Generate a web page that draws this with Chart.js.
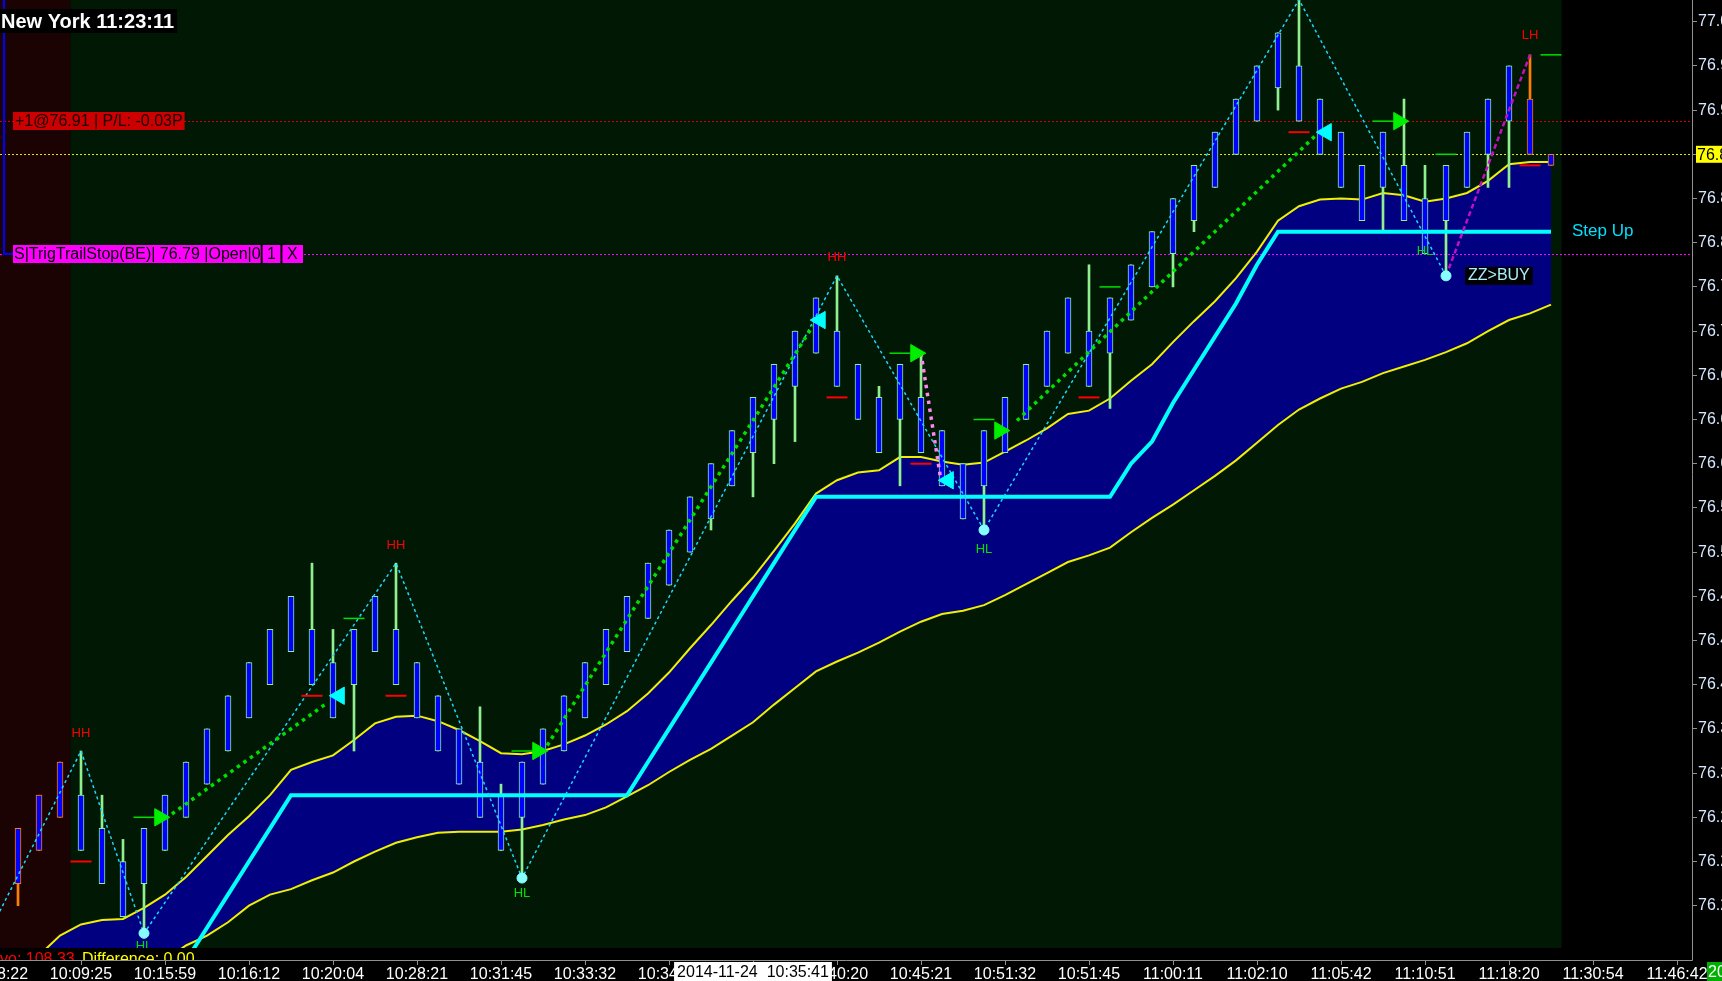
<!DOCTYPE html>
<html>
<head>
<meta charset="utf-8">
<script src="https://cdn.jsdelivr.net/npm/chart.js@4.4.0/dist/chart.umd.min.js"></script>
<style>
  html, body { margin: 0; padding: 0; background: #000; overflow: hidden; }
  canvas { display: block; }
</style>
</head>
<body>
<canvas id="chart" width="1722" height="981"></canvas>
<script>
// bars, left to right (range bars, 0 = first bar on screen)
const opens = [76.22,76.25,76.28,76.30,76.27,76.24,76.22,76.25,76.28,76.31,
  76.34,76.37,76.40,76.43,76.45,76.42,76.40,76.43,76.45,76.42,
  76.39,76.36,76.33,76.30,76.28,76.31,76.34,76.37,76.40,76.43,
  76.46,76.49,76.52,76.55,76.58,76.61,76.64,76.67,76.70,76.72,
  76.69,76.66,76.64,76.66,76.63,76.60,76.58,76.61,76.64,76.67,
  76.70,76.72,76.70,76.73,76.76,76.79,76.82,76.85,76.88,76.91,
  76.94,76.96,76.93,76.90,76.87,76.85,76.87,76.84,76.82,76.85,
  76.88,76.91,76.93,76.88];
const highs = [76.27,76.30,76.33,76.34,76.30,76.26,76.27,76.30,76.33,76.36,
  76.39,76.42,76.45,76.48,76.51,76.45,76.45,76.48,76.51,76.42,
  76.39,76.36,76.38,76.31,76.33,76.36,76.39,76.42,76.45,76.48,
  76.51,76.54,76.57,76.60,76.63,76.66,76.69,76.72,76.75,76.77,
  76.69,76.67,76.69,76.70,76.63,76.60,76.63,76.66,76.69,76.72,
  76.75,76.78,76.75,76.78,76.81,76.84,76.87,76.90,76.93,76.96,
  76.99,77.02,76.93,76.90,76.87,76.90,76.93,76.87,76.87,76.90,
  76.93,76.96,76.97,76.88];
const lows = [76.20,76.25,76.28,76.25,76.22,76.19,76.175,76.25,76.28,76.31,
  76.34,76.37,76.40,76.43,76.40,76.37,76.34,76.43,76.40,76.37,
  76.34,76.31,76.28,76.25,76.225,76.31,76.34,76.37,76.40,76.43,
  76.46,76.49,76.52,76.54,76.58,76.57,76.60,76.62,76.70,76.67,
  76.64,76.61,76.58,76.61,76.58,76.55,76.54,76.61,76.64,76.67,
  76.70,76.67,76.65,76.73,76.76,76.76,76.81,76.85,76.88,76.91,
  76.92,76.91,76.88,76.85,76.82,76.81,76.82,76.79,76.77,76.85,
  76.85,76.85,76.88,76.87];
const closes = [76.27,76.30,76.33,76.25,76.22,76.19,76.27,76.30,76.33,76.36,
  76.39,76.42,76.45,76.48,76.40,76.37,76.45,76.48,76.40,76.37,
  76.34,76.31,76.28,76.25,76.33,76.36,76.39,76.42,76.45,76.48,
  76.51,76.54,76.57,76.60,76.63,76.66,76.69,76.72,76.75,76.67,
  76.64,76.61,76.69,76.61,76.58,76.55,76.63,76.66,76.69,76.72,
  76.75,76.67,76.75,76.78,76.81,76.84,76.87,76.90,76.93,76.96,
  76.99,76.91,76.88,76.85,76.82,76.90,76.82,76.79,76.87,76.90,
  76.93,76.96,76.88,76.87];
// bars from the previous session / the live bars
const orangeBars = [0, 1, 2, 72, 73];
const sessionStartBar = 3;

// channel (upper / lower yellow) and the stepped trailing line
const upperBand = [76.128,76.155,76.173,76.183,76.187,76.188,76.198,76.210,76.226,76.245,
  76.264,76.281,76.300,76.323,76.330,76.336,76.350,76.365,76.371,76.372,
  76.367,76.359,76.349,76.338,76.337,76.340,76.346,76.354,76.364,76.376,
  76.392,76.411,76.433,76.454,76.476,76.497,76.521,76.546,76.573,76.585,
  76.592,76.594,76.606,76.606,76.602,76.599,76.601,76.611,76.621,76.632,
  76.645,76.648,76.659,76.675,76.690,76.710,76.729,76.747,76.768,76.792,
  76.820,76.833,76.839,76.840,76.839,76.845,76.843,76.837,76.840,76.845,
  76.856,76.871,76.873,76.873];
const lowerBand = [76.080,76.090,76.100,76.110,76.120,76.130,76.140,76.151,76.164,76.173,
  76.185,76.200,76.210,76.215,76.223,76.230,76.240,76.249,76.257,76.262,
  76.266,76.267,76.267,76.267,76.269,76.273,76.278,76.282,76.289,76.299,
  76.309,76.321,76.332,76.342,76.354,76.366,76.382,76.397,76.412,76.421,
  76.429,76.438,76.448,76.457,76.464,76.467,76.472,76.481,76.491,76.501,
  76.511,76.517,76.524,76.538,76.551,76.563,76.576,76.589,76.603,76.619,
  76.635,76.649,76.659,76.668,76.674,76.682,76.688,76.694,76.701,76.709,
  76.720,76.730,76.736,76.744];
const stepLine = [null,null,null,null,null,null,null,76.12,76.15,76.18,
  76.21,76.24,76.27,76.30,76.30,76.30,76.30,76.30,76.30,76.30,
  76.30,76.30,76.30,76.30,76.30,76.30,76.30,76.30,76.30,76.30,
  76.33,76.36,76.39,76.42,76.45,76.48,76.51,76.54,76.57,76.57,
  76.57,76.57,76.57,76.57,76.57,76.57,76.57,76.57,76.57,76.57,
  76.57,76.57,76.57,76.60,76.62,76.655,76.685,76.715,76.745,76.78,
  76.81,76.81,76.81,76.81,76.81,76.81,76.81,76.81,76.81,76.81,
  76.81,76.81,76.81,76.81];

// zigzag swings
const zigzagBars = [-1, 3, 6, 18, 24, 39, 46, 61, 68];
const zigzagPrices = [76.19, 76.34, 76.175, 76.51, 76.225, 76.77, 76.54, 77.02, 76.77];
const lastLegBars = [68, 72];
const lastLegPrices = [76.77, 76.97];
const swingLowBars = [6, 24, 46, 68];
const swingLowPrices = [76.175, 76.225, 76.54, 76.77];
const swingTexts = ["HH", "HL", "HH", "HL", "HH", "HL", "HL", "LH"];
const swingTextBars = [3, 6, 18, 24, 39, 46, 67, 72];
const swingTextPrices = [76.356, 76.163, 76.526, 76.211, 76.787, 76.522, 76.792, 76.988];

// trade signals
const buyArrowBars = [6.75, 24.75, 42.75, 46.75, 65.75];
const buyArrowPrices = [76.28, 76.34, 76.70, 76.63, 76.91];
const exitArrowBars = [15.3, 38.2, 44.3, 62.3];
const exitArrowPrices = [76.39, 76.73, 76.585, 76.90];
const trailBars = [[7.33, 14.76], [25.2, 37.86], [47.57, 61.9]];
const trailPrices = [[76.283, 76.384], [76.345, 76.725], [76.639, 76.899]];
const shortTrailBars = [43.0, 43.95];
const shortTrailPrices = [76.70, 76.585];
const redMarkBars = [3, 14, 18, 39, 43, 51, 61, 72];
const redMarkPrices = [76.24, 76.39, 76.39, 76.66, 76.60, 76.66, 76.90, 76.87];
const greenMarkBars = [6, 16, 24, 42, 46, 52, 65, 68, 73];
const greenMarkPrices = [76.28, 76.46, 76.34, 76.70, 76.64, 76.76, 76.91, 76.88, 76.97];

// order lines
const entryPrice = 76.91;
const lastPrice = 76.88;
const stopPrice = 76.79;

// axes
const priceTicks = [77.00, 76.96, 76.92, 76.88, 76.84, 76.80, 76.76, 76.72, 76.68, 76.64, 76.60,
  76.56, 76.52, 76.48, 76.44, 76.40, 76.36, 76.32, 76.28, 76.24, 76.20];
const timeTickBars = [-1, 3, 7, 11, 15, 19, 23, 27, 31, 35, 39, 43, 47, 51, 55, 59, 63, 67, 71, 75, 79];
const timeLabels = ["10:08:22", "10:09:25", "10:15:59", "10:16:12", "10:20:04", "10:28:21", "10:31:45",
  "10:33:32", "10:34:10", "10:35:41", "10:40:20", "10:45:21", "10:51:32", "10:51:45", "11:00:11",
  "11:02:10", "11:05:42", "11:10:51", "11:18:20", "11:30:54", "11:46:42"];
const cursorBar = 35;
const cursorText = "2014-11-24  10:35:41";

const FONT = "'Liberation Sans', Arial, sans-serif";
Chart.defaults.font.family = FONT;

const barIdx = opens.map((o, i) => i);
const pts = (xs, ys) => xs.map((x, k) => ({ x: x, y: ys[k] }));
const isOrange = (i) => orangeBars.includes(i);

function drawLevelLines(chart) {
  const { ctx, chartArea: a, scales: { y } } = chart;
  ctx.save();
  ctx.lineWidth = 1;
  ctx.setLineDash([2, 2]);
  [[entryPrice, "#d00000"], [lastPrice, "#e6e600"], [stopPrice, "#ff00ff"]].forEach(([p, c]) => {
    const yy = Math.round(y.getPixelForValue(p)) + 0.5;
    ctx.strokeStyle = c;
    ctx.beginPath();
    ctx.moveTo(0, yy);
    ctx.lineTo(a.right, yy);
    ctx.stroke();
  });
  ctx.restore();
}

const decor = {
  id: "decor",
  beforeDraw(chart) {
    const { ctx, chartArea: a, scales: { x } } = chart;
    ctx.save();
    ctx.fillStyle = "#000";
    ctx.fillRect(0, 0, chart.width, chart.height);
    const sx = x.getPixelForValue(sessionStartBar - 0.5);
    const ex = x.getPixelForValue(opens.length - 0.5);
    ctx.fillStyle = "#1b0303";
    ctx.fillRect(a.left, a.top, sx - a.left, a.bottom - a.top);
    ctx.fillStyle = "#001804";
    ctx.fillRect(sx, a.top, ex - sx, a.bottom - a.top);
    ctx.restore();
  },
  afterDatasetDraw(chart, args) {
    if (args.index === 1) drawLevelLines(chart);
  },
  afterDraw(chart) {
    const { ctx, chartArea: a, scales: { x, y } } = chart;
    ctx.save();

    // swing labels
    ctx.font = "13px " + FONT;
    ctx.textAlign = "center";
    ctx.textBaseline = "middle";
    swingTexts.forEach((t, k) => {
      ctx.fillStyle = t === "HL" ? "#00e000" : "#ff0000";
      ctx.fillText(t, x.getPixelForValue(swingTextBars[k]), y.getPixelForValue(swingTextPrices[k]));
    });

    // ZZ>BUY tag next to the last swing low
    const lx = x.getPixelForValue(swingLowBars[swingLowBars.length - 1]) + 19;
    const ly = y.getPixelForValue(swingLowPrices[swingLowPrices.length - 1]);
    ctx.font = "16px " + FONT;
    ctx.textAlign = "left";
    const zw = ctx.measureText("ZZ>BUY").width + 6;
    ctx.fillStyle = "#000";
    ctx.fillRect(lx, ly - 9, zw, 18);
    ctx.fillStyle = "#a8f0ff";
    ctx.fillText("ZZ>BUY", lx + 3, ly);

    // Step Up label at the end of the trailing line
    ctx.font = "17px " + FONT;
    ctx.fillStyle = "#00e0ff";
    ctx.fillText("Step Up", x.getPixelForValue(opens.length - 1) + 21, y.getPixelForValue(stepLine[stepLine.length - 1]));

    // blue connector from the top to the stop tag
    const sy = Math.round(y.getPixelForValue(stopPrice));
    ctx.strokeStyle = "#0000ff";
    ctx.lineWidth = 2;
    ctx.beginPath();
    ctx.moveTo(4, 0);
    ctx.lineTo(4, sy);
    ctx.lineTo(13, sy);
    ctx.stroke();

    // clock
    ctx.font = "bold 20px " + FONT;
    const cw = ctx.measureText("New York 11:23:11").width;
    ctx.fillStyle = "#000";
    ctx.fillRect(0, 9, cw + 4, 24);
    ctx.fillStyle = "#fff";
    ctx.textBaseline = "alphabetic";
    ctx.fillText("New York 11:23:11", 1, 28);

    // position tag
    ctx.font = "16px " + FONT;
    ctx.textBaseline = "middle";
    const ey = Math.round(y.getPixelForValue(entryPrice));
    const entryText = "+1@" + entryPrice.toFixed(2) + " | P/L: -0.03P";
    const ew = ctx.measureText(entryText).width + 4;
    ctx.fillStyle = "#cc0000";
    ctx.fillRect(13, ey - 9, ew, 18);
    ctx.fillStyle = "#1a0000";
    ctx.fillText(entryText, 15, ey + 1);

    // stop tag, three cells
    const cells = ["S|TrigTrailStop(BE)| " + stopPrice.toFixed(2) + " |Open|0", " 1 ", " X "];
    let cx = 13;
    cells.forEach((c, k) => {
      const w = ctx.measureText(c).width + 2;
      ctx.fillStyle = "#ff00ff";
      ctx.fillRect(cx, sy - 9, w, 18);
      ctx.fillStyle = "#000";
      ctx.fillText(c, cx + 1, sy + 1);
      if (k > 0) ctx.fillRect(cx - 1, sy - 9, 2, 18);
      cx += w;
    });

    // last price box on the price axis
    const py = y.getPixelForValue(lastPrice);
    ctx.fillStyle = "#ffff00";
    ctx.fillRect(a.right + 4, py - 8.5, 40, 17);
    ctx.fillStyle = "#000";
    ctx.fillText(lastPrice.toFixed(2), a.right + 5, py + 1);

    // bottom strip of the lower panel
    ctx.fillStyle = "#000";
    ctx.fillRect(0, a.bottom, a.right, 12);
    ctx.save();
    ctx.beginPath();
    ctx.rect(0, a.bottom, a.right, 12);
    ctx.clip();
    ctx.textBaseline = "alphabetic";
    ctx.fillStyle = "#ff0000";
    ctx.fillText("vo: 108.33", 0, a.bottom + 16);
    ctx.fillStyle = "#ffff00";
    ctx.fillText("Difference: 0.00", 82, a.bottom + 16);
    ctx.restore();

    ctx.strokeStyle = "#909090";
    ctx.lineWidth = 1;
    ctx.beginPath();
    ctx.moveTo(0, a.bottom + 12.5);
    ctx.lineTo(a.right + 0.5, a.bottom + 12.5);
    ctx.moveTo(a.right + 0.5, a.bottom);
    ctx.lineTo(a.right + 0.5, a.bottom + 12.5);
    timeTickBars.forEach((b) => {
      const tx = Math.round(x.getPixelForValue(b)) + 0.5;
      ctx.moveTo(tx, a.bottom + 12.5);
      ctx.lineTo(tx, a.bottom + 17);
    });
    ctx.stroke();

    // crosshair date box
    ctx.font = "16px " + FONT;
    const dw = ctx.measureText(cursorText).width + 6;
    const dx = x.getPixelForValue(cursorBar) - dw / 2;
    ctx.fillStyle = "#ffffff";
    ctx.fillRect(dx, a.bottom + 14, dw, 20);
    ctx.fillStyle = "#000";
    ctx.textBaseline = "top";
    ctx.fillText(cursorText, dx + 3, a.bottom + 17);

    // live time box at the right edge
    ctx.fillStyle = "#00b000";
    ctx.fillRect(a.right + 15, a.bottom + 14, 40, 20);
    ctx.fillStyle = "#ffffff";
    ctx.fillText("2014-11-24", a.right + 16, a.bottom + 17);

    ctx.restore();
  }
};

const datasets = [
  {
    type: "line", data: pts(barIdx, upperBand), borderColor: "#f0f000", borderWidth: 2,
    pointRadius: 0, fill: "+1", backgroundColor: "#000080", order: 100
  },
  {
    type: "line", data: pts(barIdx, lowerBand), borderColor: "#f0f000", borderWidth: 2,
    pointRadius: 0, fill: false, order: 99
  },
  {
    type: "bar", data: barIdx.map((i) => ({ x: i, y: [lows[i], highs[i]] })),
    backgroundColor: (c) => isOrange(c.dataIndex) ? "#ff8000" : "#90f090",
    borderWidth: 0, barThickness: 2, grouped: false, order: 90
  },
  {
    type: "bar", data: barIdx.map((i) => ({ x: i, y: [opens[i], closes[i]] })),
    backgroundColor: "#0000ff",
    borderColor: (c) => isOrange(c.dataIndex) ? "#ff8000" : "#90f090",
    borderWidth: 1, borderSkipped: false, barThickness: 6, grouped: false, order: 89
  },
  {
    type: "line", data: pts(barIdx, stepLine), borderColor: "#00ffff", borderWidth: 4,
    pointRadius: 0, fill: false, spanGaps: false, order: 80
  },
  {
    type: "line", data: pts(zigzagBars, zigzagPrices), borderColor: "#1ad8ff", borderWidth: 1.5,
    borderDash: [3, 3], pointRadius: 0, fill: false, order: 70
  },
  {
    type: "line", data: pts(lastLegBars, lastLegPrices), borderColor: "#c010c0", borderWidth: 2.5,
    borderDash: [5, 3], pointRadius: 0, fill: false, order: 69
  },
  ...trailBars.map((tb, k) => ({
    type: "line", data: pts(tb, trailPrices[k]), borderColor: "#00e000", borderWidth: 3.5,
    borderDash: [3.5, 4.5], pointRadius: 0, fill: false, order: 60
  })),
  {
    type: "line", data: pts(shortTrailBars, shortTrailPrices), borderColor: "#ff88ee", borderWidth: 3.5,
    borderDash: [3.5, 4.5], pointRadius: 0, fill: false, order: 60
  },
  {
    type: "scatter", data: pts(redMarkBars, redMarkPrices), pointStyle: "line", pointRadius: 10.5,
    pointBorderColor: "#ff0000", pointBorderWidth: 2, order: 50
  },
  {
    type: "scatter", data: pts(greenMarkBars, greenMarkPrices), pointStyle: "line", pointRadius: 10.5,
    pointBorderColor: "#00e000", pointBorderWidth: 1.5, order: 50
  },
  {
    type: "scatter", data: pts(buyArrowBars, buyArrowPrices), pointStyle: "triangle", pointRotation: 90,
    pointRadius: 10, pointBackgroundColor: "#00ee00", pointBorderColor: "#00ee00", pointBorderWidth: 1, order: 40
  },
  {
    type: "scatter", data: pts(exitArrowBars, exitArrowPrices), pointStyle: "triangle", pointRotation: -90,
    pointRadius: 10, pointBackgroundColor: "#00ffff", pointBorderColor: "#00ffff", pointBorderWidth: 1, order: 40
  },
  {
    type: "scatter", data: pts(swingLowBars, swingLowPrices), pointStyle: "circle", pointRadius: 5,
    pointBackgroundColor: "#88ffff", pointBorderColor: "#88ffff", pointBorderWidth: 1, order: 30
  }
];

new Chart(document.getElementById("chart").getContext("2d"), {
  type: "bar",
  data: { datasets: datasets },
  plugins: [decor],
  options: {
    responsive: false,
    animation: false,
    devicePixelRatio: 1,
    layout: { padding: 0, autoPadding: false },
    plugins: { legend: { display: false }, tooltip: { enabled: false } },
    scales: {
      x: {
        type: "linear",
        min: -18 / 21,
        max: (1692 - 18) / 21,
        offset: false,
        grid: { display: false, drawTicks: false },
        border: { display: false },
        ticks: {
          color: "#ffffff",
          font: { size: 16 },
          padding: 17,
          autoSkip: false,
          maxRotation: 0,
          callback: (v, k) => timeLabels[k]
        },
        afterBuildTicks: (s) => { s.ticks = timeTickBars.map((b) => ({ value: b })); },
        afterFit: (s) => { s.height = 33; s.paddingLeft = 0; s.paddingRight = 0; }
      },
      y: {
        position: "right",
        min: 77 - (948 - 21.7) / 1105,
        max: 77 + 21.7 / 1105,
        grid: { display: true, drawOnChartArea: false, drawTicks: true, tickLength: 5, color: "#909090" },
        border: { display: true, color: "#909090" },
        ticks: {
          color: "#d8e8ff",
          font: { size: 16 },
          padding: 1,
          callback: (v) => Number(v).toFixed(2)
        },
        afterBuildTicks: (s) => { s.ticks = priceTicks.map((p) => ({ value: p })); },
        afterFit: (s) => { s.width = 30; s.paddingTop = 0; s.paddingBottom = 0; }
      }
    }
  }
});
</script>
</body>
</html>
